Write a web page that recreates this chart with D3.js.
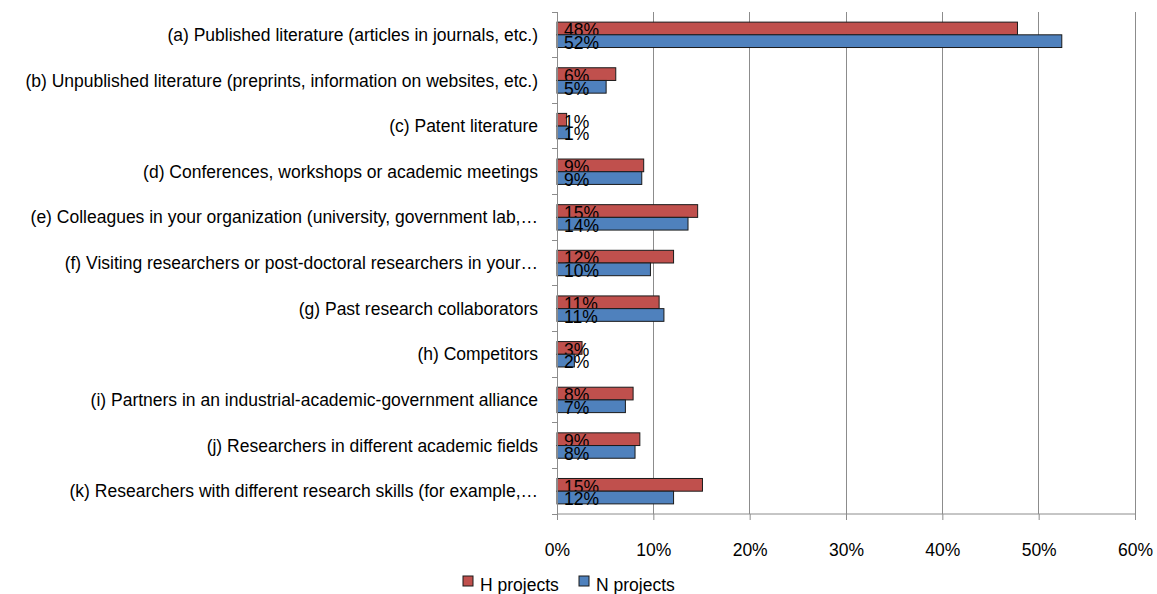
<!DOCTYPE html>
<html><head><meta charset="utf-8">
<script src="https://cdn.jsdelivr.net/npm/d3@7"></script>
<style>body{margin:0;background:#fff;} text{font-family:"Liberation Sans",Arial,sans-serif;}</style>
</head><body>
<svg id="c" width="1157" height="594"></svg>
<script>
const categories = [
  "(a) Published literature (articles in journals, etc.)",
  "(b) Unpublished literature (preprints, information on websites, etc.)",
  "(c) Patent literature",
  "(d) Conferences, workshops or academic meetings",
  "(e) Colleagues in your organization (university, government lab,\u2026",
  "(f) Visiting researchers or post-doctoral researchers in your\u2026",
  "(g) Past research collaborators",
  "(h) Competitors",
  "(i) Partners in an industrial-academic-government alliance",
  "(j) Researchers in different academic fields",
  "(k) Researchers with different research skills (for example,\u2026"
];
const hProjects = [47.8, 6.1, 1.0, 9.0, 14.6, 12.1, 10.6, 2.6, 7.9, 8.6, 15.1];
const nProjects = [52.4, 5.1, 1.2, 8.8, 13.6, 9.7, 11.1, 1.8, 7.1, 8.1, 12.1];
const xTicks = [0, 10, 20, 30, 40, 50, 60];
const seriesNames = ["H projects", "N projects"];
const colors = ["#C0504D", "#4F81BD"];

(function () {
const svg = d3.select("#c");
const mLeft = 557, mRight = 1135, mTop = 12, mBottom = 514;
const FS = 17.5;
const x = d3.scaleLinear().domain([0, 60]).range([mLeft, mRight]);
const y = d3.scaleBand().domain(categories).range([mTop, mBottom]);
const inner = d3.scaleBand().domain(seriesNames).range([0, 25.4]);

// gridlines
svg.append("g").selectAll("line").data(xTicks.slice(1)).join("line")
  .attr("x1", d => x(d)).attr("x2", d => x(d))
  .attr("y1", mTop).attr("y2", mBottom)
  .attr("stroke", "#8c8c8c").attr("stroke-width", 1).attr("shape-rendering", "crispEdges");

// bars
const series = [hProjects, nProjects];
series.forEach((vals, si) => {
  const g = svg.append("g");
  g.selectAll("rect").data(vals).join("rect")
    .attr("x", x(0))
    .attr("y", (d, i) => y(categories[i]) + (y.bandwidth() - 25.4) / 2 + inner(seriesNames[si]))
    .attr("width", d => x(d) - x(0))
    .attr("height", inner.bandwidth())
    .attr("fill", colors[si])
    .attr("stroke", "#1a1a1a").attr("stroke-width", 1);
  g.selectAll("text").data(vals).join("text")
    .attr("x", x(0) + 7)
    .attr("y", (d, i) => y(categories[i]) + (y.bandwidth() - 25.4) / 2 + inner(seriesNames[si]) + inner.bandwidth() / 2 + 1.5)
    .attr("dy", "0.36em")
    .attr("font-size", FS)
    .attr("fill", "#000")
    .text(d => Math.round(d) + "%");
});

// y axis
const yAxis = svg.append("g").attr("transform", `translate(${mLeft},0)`);
yAxis.append("line").attr("x1", 0).attr("x2", 0).attr("y1", mTop).attr("y2", mBottom)
  .attr("stroke", "#8c8c8c").attr("shape-rendering", "crispEdges");
const bounds = categories.map(c => y(c)).concat([mBottom]);
yAxis.selectAll(".tk").data(bounds).join("line").attr("class", "tk")
  .attr("x1", -5).attr("x2", 0).attr("y1", d => d).attr("y2", d => d)
  .attr("stroke", "#8c8c8c").attr("shape-rendering", "crispEdges");
yAxis.selectAll("text").data(categories).join("text")
  .attr("x", -19).attr("y", d => y(d) + y.bandwidth() / 2)
  .attr("dy", "0.35em").attr("text-anchor", "end")
  .attr("font-size", FS).attr("fill", "#000")
  .text(d => d);

// x axis
const xAxisG = svg.append("g").attr("transform", `translate(0,${mBottom})`)
  .call(d3.axisBottom(x).tickValues(xTicks).tickFormat(d => d + "%").tickSize(6).tickPadding(24));
xAxisG.select(".domain").attr("stroke", "#8c8c8c").attr("d", `M${mLeft},0H${mRight}`);
xAxisG.selectAll(".tick line").attr("stroke", "#8c8c8c");
xAxisG.selectAll(".tick text").attr("font-size", FS).attr("fill", "#000")
  .attr("font-family", "Liberation Sans, Arial, sans-serif");

// legend
const legendX = [463, 579];
const lg = svg.append("g");
seriesNames.forEach((n, i) => {
  lg.append("rect").attr("x", legendX[i]).attr("y", 576).attr("width", 10).attr("height", 10)
    .attr("fill", colors[i]).attr("stroke", "#1a1a1a").attr("stroke-width", 1);
  lg.append("text").attr("x", legendX[i] + 17).attr("y", 585).attr("dy", "0.35em")
    .attr("font-size", FS).attr("fill", "#000").text(n);
});
})();
</script>
</body></html>
